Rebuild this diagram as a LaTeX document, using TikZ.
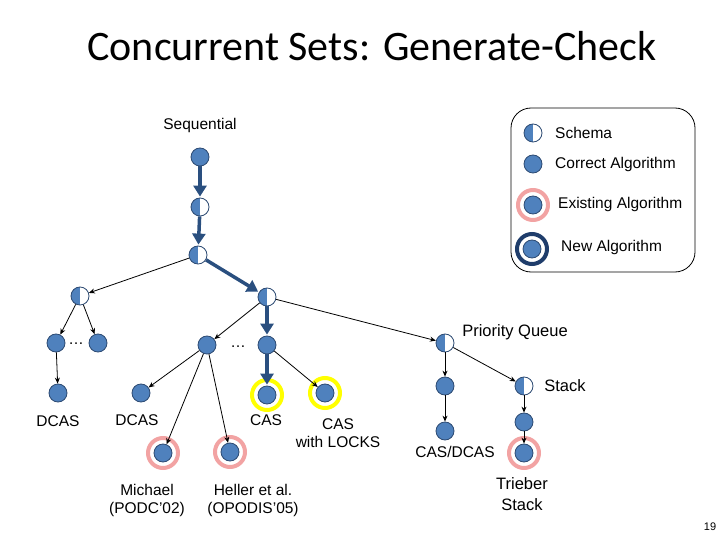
\documentclass[tikz,border=0pt]{standalone}
\usepackage{fontspec}
\setmainfont{Liberation Sans}
\newfontfamily\titlefont{Carlito}
\usetikzlibrary{arrows.meta}
\definecolor{nfill}{HTML}{4F81BD}
\definecolor{ndraw}{HTML}{2C4A72}
\definecolor{thick}{HTML}{2A4F7F}
\definecolor{pinkr}{HTML}{F2A3A3}
\definecolor{yel}{HTML}{FFFF00}
\definecolor{navy}{HTML}{1F3D6B}
\begin{document}
\begin{tikzpicture}[x=1pt,y=-1pt,
  every node/.style={font=\fontsize{15.5}{18}\selectfont},
  cor/.style={circle,draw=ndraw,fill=nfill,minimum size=18pt,inner sep=0pt,line width=0.8pt},
  sch/.style={circle,draw=ndraw,fill=white,minimum size=18pt,inner sep=0pt,line width=0.8pt,
    path picture={\fill[nfill] (path picture bounding box.north) rectangle (path picture bounding box.south west);}},
  ex/.style={cor,append after command={node[circle,draw=pinkr,line width=4pt,minimum size=30pt,at=(\tikzlastnode.center)]{}}},
  ye/.style={cor,append after command={node[circle,draw=yel,line width=4pt,minimum size=30pt,at=(\tikzlastnode.center)]{}}},
  nw/.style={cor,append after command={node[circle,draw=navy,line width=4pt,minimum size=30pt,at=(\tikzlastnode.center)]{}}},
  th/.style={draw=thick,line width=3.5pt,-{Triangle[length=11pt,width=13pt]},shorten >=1pt},
  tn/.style={draw=black,line width=0.8pt,-{Stealth[length=6pt,width=5pt]}},
  lab/.style={align=center,inner sep=0pt}]
\useasboundingbox (0,0) rectangle (720,540);
\node (title) at (372,46) {\titlefont\fontsize{42}{46}\selectfont Concurrent Sets: Generate-Check};
\node (seq) at (200,125) {Sequential};
% legend
\draw[line width=0.8pt,rounded corners=20pt] (511,108) rectangle (695,272);
\node[sch] (ls) at (533,133) {};
\node[lab,anchor=west] (lst) at (555,133) {Schema};
\node[cor] (lc) at (533,164) {};
\node[lab,anchor=west] (lct) at (555,164) {Correct Algorithm};
\node[ex] (le) at (533,205) {};
\node[lab,anchor=west] (let) at (558,204) {Existing Algorithm};
\node[nw] (ln) at (532,249) {};
\node[lab,anchor=west] (lnt) at (561,247) {New Algorithm};
% tree
\node[cor] (A) at (200,157) {};
\node[sch] (B) at (200,207) {};
\node[sch] (C) at (198,255) {};
\node[sch] (D) at (80,296) {};
\node[sch] (E) at (267,297) {};
\node[cor] (F1) at (56,343) {};
\node[cor] (F2) at (98,343) {};
\node[lab] (d1) at (76,344) {\dots};
\node[cor] (G1) at (207,345) {};
\node[lab] (d2) at (238,347) {\dots};
\node[cor] (G2) at (267,345) {};
\node[cor] (H1) at (58,393) {};
\node[lab] (h1t) at (58,421) {DCAS};
\node[cor] (H2) at (141,393) {};
\node[lab] (h2t) at (137,420) {DCAS};
\node[ye] (I1) at (267,395) {};
\node[lab] (i1t) at (266,420) {CAS};
\node[ye] (I2) at (325,393) {};
\node[lab] (i2t) at (338,433) {CAS\\with LOCKS};
\node[ex] (J1) at (163,453) {};
\node[lab] (j1t) at (147,500) {Michael\\(PODC’02)};
\node[ex] (J2) at (230,452) {};
\node[lab] (j2t) at (253,500) {Heller et al.\\(OPODIS’05)};
\node[sch] (P) at (445,343) {};
\node[lab,font=\fontsize{16.5}{19}\selectfont] (pt) at (515,332) {Priority Queue};
\node[cor] (K1) at (445,386) {};
\node[cor] (K2) at (445,431) {};
\node[lab] (k2t) at (455,452) {CAS/DCAS};
\node[sch] (S) at (524,386) {};
\node[lab,font=\fontsize{16.5}{19}\selectfont] (st) at (565,386) {Stack};
\node[cor] (L1) at (524,422) {};
\node[ex] (L2) at (524,453) {};
\node[lab,font=\fontsize{16.5}{21}\selectfont] (l2t) at (522,494) {Trieber\\Stack};
\node[lab,font=\fontsize{11}{13}\selectfont] (pg) at (710,527) {19};
% edges
\draw[th] (A) -- (B);
\draw[th] (B) -- (C);
\draw[th] (C) -- (E);
\draw[th] (E) -- (G2);
\draw[th] (G2) -- (I1);
\draw[tn] (C) -- (D);
\draw[tn] (D) -- (F1);
\draw[tn] (D) -- (F2);
\draw[tn] (F1) -- (H1);
\draw[tn] (E) -- (G1);
\draw[tn] (E) -- (P);
\draw[tn] (G1) -- (H2);
\draw[tn] (G1) -- (J1);
\draw[tn] (G1) -- (J2);
\draw[tn] (G2) -- (I2);
\draw[tn] (P) -- (K1);
\draw[tn] (K1) -- (K2);
\draw[tn] (P) -- (S);
\draw[tn] (S) -- (L1);
\draw[tn] (L1) -- (L2);
\end{tikzpicture}
\end{document}
